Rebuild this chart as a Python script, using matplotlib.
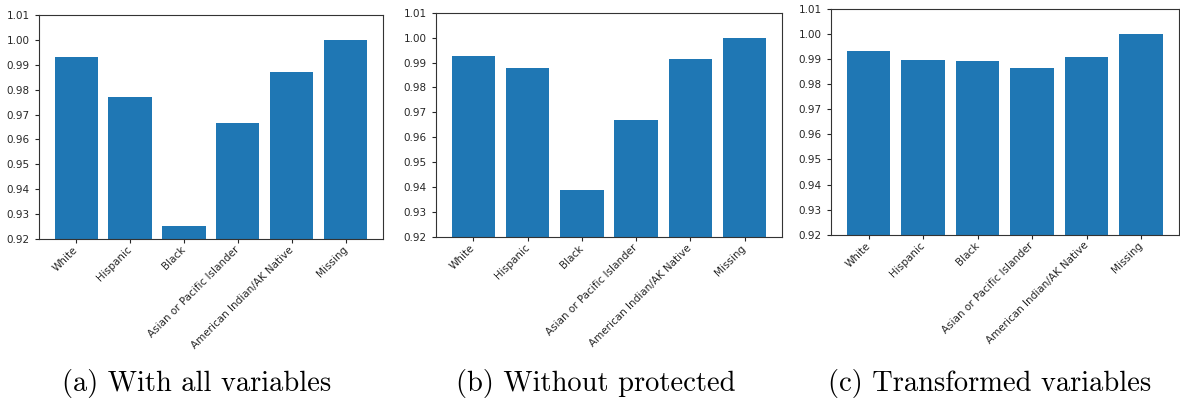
import numpy as np
import matplotlib.pyplot as plt

groups = ['White', 'Hispanic', 'Black', 'Asian or Pacific Islander',
          'American Indian/AK Native', 'Missing']
all_vars = [0.9933, 0.9772, 0.9253, 0.9665, 0.9871, 1.0000]
no_protected = [0.9928, 0.9877, 0.9388, 0.9670, 0.9914, 1.0000]
transformed = [0.9931, 0.9894, 0.9890, 0.9864, 0.9906, 0.9998]
captions = ['(a) With all variables', '(b) Without protected',
            '(c) Transformed variables']

fig = plt.figure(figsize=(11.8, 4.05), dpi=100)

# axes boxes (figure fractions)
boxes = [[0.033, 0.410, 0.2915, 0.553],
         [0.3695, 0.414, 0.2932, 0.555],
         [0.7042, 0.420, 0.2948, 0.559]]
caption_x = [0.167, 0.505, 0.839]

for box, vals, cap, cx in zip(boxes, [all_vars, no_protected, transformed],
                              captions, caption_x):
    ax = fig.add_axes(box)
    x = np.arange(len(groups))
    ax.bar(x, vals, width=0.8, color='#1f77b4')
    ax.set_ylim(0.92, 1.01)
    ax.set_yticks(np.arange(0.92, 1.0101, 0.01))
    ax.set_yticklabels(['%.2f' % v for v in np.arange(0.92, 1.0101, 0.01)])
    ax.set_xticks(x)
    # anchor mode puts the labels' top end a bit right of the tick, as in the reference
    ax.set_xticklabels(groups, rotation=45, ha='right', va='center',
                       rotation_mode='anchor')
    ax.tick_params(labelsize=7.5, colors='#262626', length=3, axis='both')
    ax.tick_params(axis='x', pad=3.5)
    for s in ax.spines.values():
        s.set_color('#333333')
    fig.text(cx, 0.054, cap, ha='center', va='center', fontsize=20.5,
             family='cmr10')

plt.savefig('out.png', dpi=100)
